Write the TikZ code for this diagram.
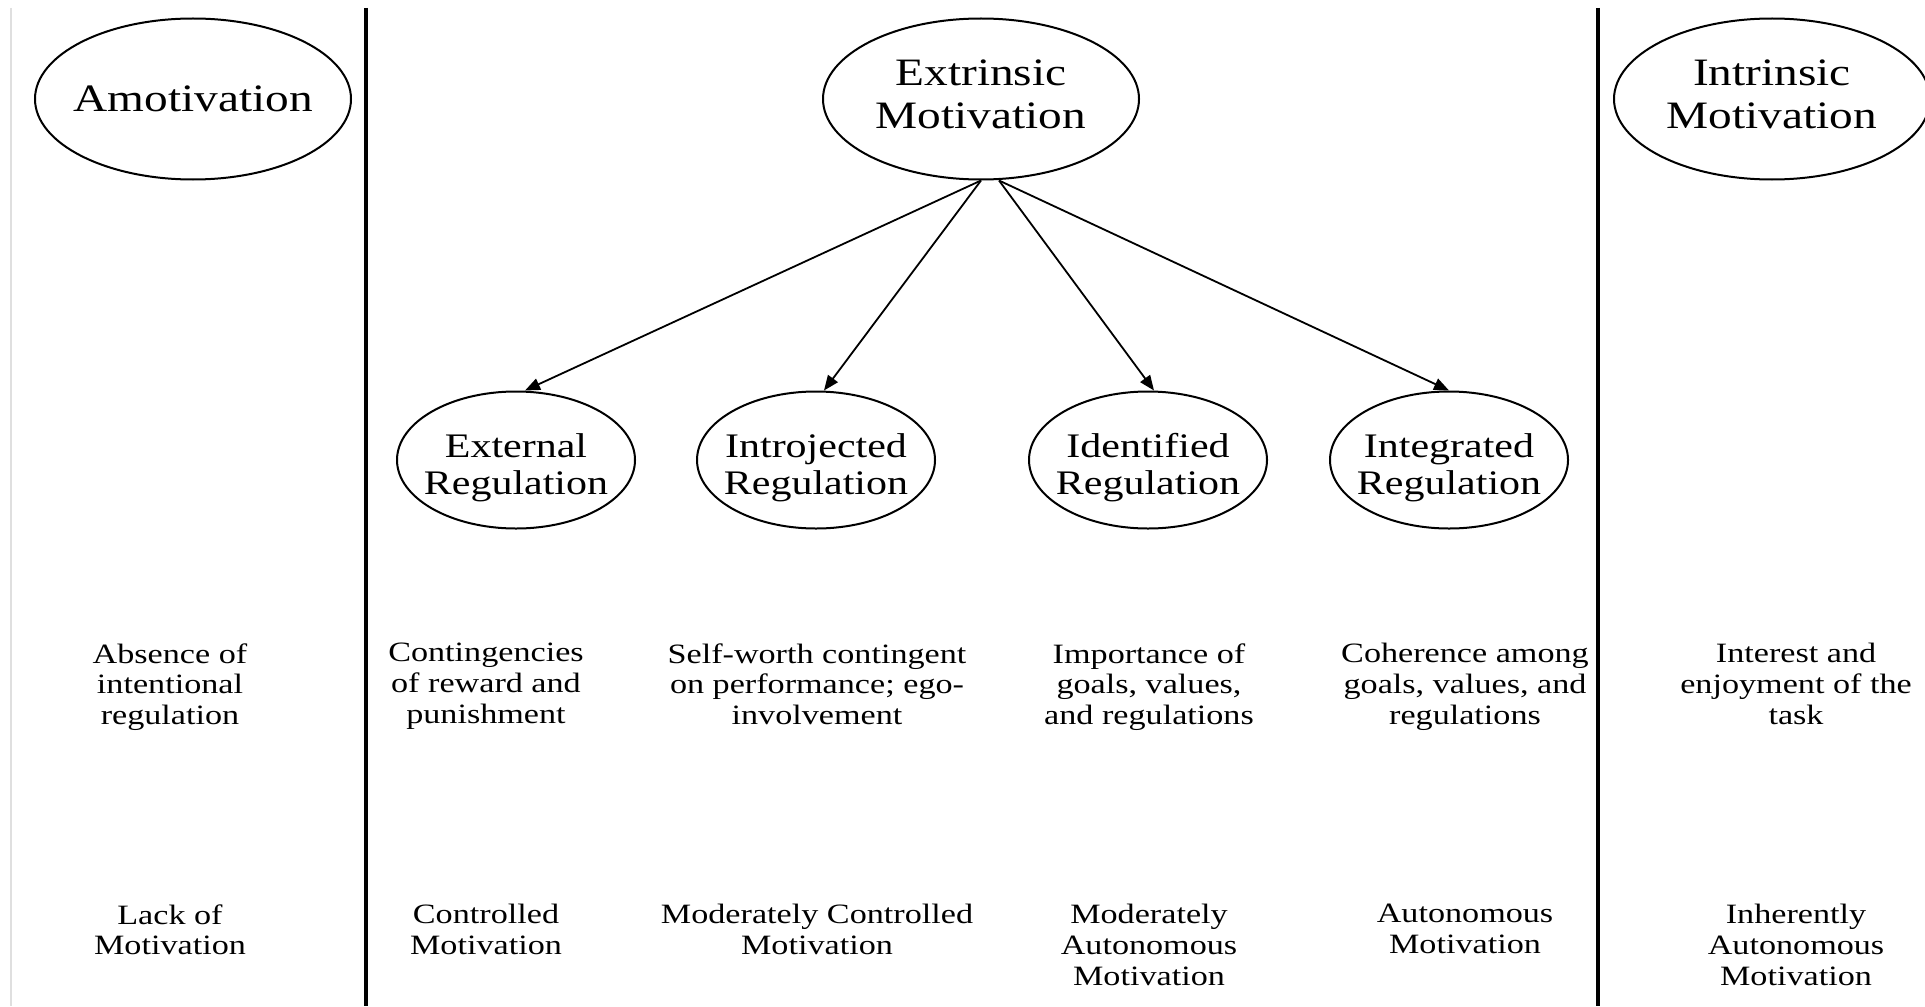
\documentclass[tikz,border=0pt]{standalone}
\usepackage{fontspec}
\setmainfont[FakeStretch=1.22]{Liberation Serif}
\usetikzlibrary{arrows.meta,positioning,shapes.geometric}

\begin{document}
\begin{tikzpicture}[x=0.5pt,y=-0.5pt,
  bigell/.style={draw,ellipse,line width=1pt,minimum width=158pt,minimum height=80.5pt,
    inner xsep=-6pt,inner ysep=0pt,align=center,font=\fontsize{19.4}{21.5}\selectfont},
  regell/.style={draw,ellipse,line width=1pt,minimum width=119pt,minimum height=68.5pt,
    inner xsep=-6pt,inner ysep=0pt,align=center,text height=34pt,text depth=0pt,
    font=\fontsize{17.2}{18.4}\selectfont},
  lbl/.style={anchor=north,inner sep=0pt,align=center,font=\fontsize{14}{15.35}\selectfont},
  sep/.style={line width=2pt},
  arr/.style={-{Triangle[length=7.5pt,width=6pt]},line width=0.9pt}
]
  \useasboundingbox (0,0) rectangle (1925,1006);
  % column separators
  \draw[gray!25,line width=0.6pt] (11,8) -- (11,1006);
  \draw[sep] (366,8) -- (366,1006);
  \draw[sep] (1598,8) -- (1598,1006);

  % motivation types
  \node[bigell] (amot) at (193,99) {Amotivation};
  \node[bigell,text depth=4.5pt] (extr) at (981,99) {Extrinsic\\Motivation};
  \node[bigell,text depth=4.5pt] (intr) at (1772,99) {Intrinsic\\Motivation};

  % regulation styles
  \node[regell] (ext) at (516,460) {External\\Regulation};
  \node[regell] (intro) at (816,460) {Introjected\\Regulation};
  \node[regell] (iden) at (1148,460) {Identified\\Regulation};
  \node[regell] (integ) at (1449,460) {Integrated\\Regulation};

  \draw[arr] (extr.south) -- ([xshift=4.5pt]ext.north);
  \draw[arr] (extr.south) -- ([xshift=4pt]intro.north);
  \draw[arr] ([xshift=9pt]extr.south) -- ([xshift=3pt]iden.north);
  \draw[arr] ([xshift=9pt]extr.south) -- (integ.north);

  % regulatory processes
  \node[lbl] (amotproc) at (170,643) {Absence of\\intentional\\regulation};
  \node[lbl] (extproc) at (486,643) {Contingencies\\of reward and\\punishment};
  \node[lbl] (introproc) at (817,643) {Self-worth contingent\\on performance; ego-\\involvement};
  \node[lbl] (idenproc) at (1149,643) {Importance of\\goals, values,\\and regulations};
  \node[lbl] (integproc) at (1465,643) {Coherence among\\goals, values, and\\regulations};
  \node[lbl] (intrproc) at (1796,643) {Interest and\\enjoyment of the\\task};

  % perceived locus
  \node[lbl] (amotloc) at (170,904) {Lack of\\Motivation};
  \node[lbl] (extloc) at (486,904) {Controlled\\Motivation};
  \node[lbl] (introloc) at (817,904) {Moderately Controlled\\Motivation};
  \node[lbl] (idenloc) at (1149,904) {Moderately\\Autonomous\\Motivation};
  \node[lbl] (integloc) at (1465,904) {Autonomous\\Motivation};
  \node[lbl] (intrloc) at (1796,904) {Inherently\\Autonomous\\Motivation};
\end{tikzpicture}
\end{document}
